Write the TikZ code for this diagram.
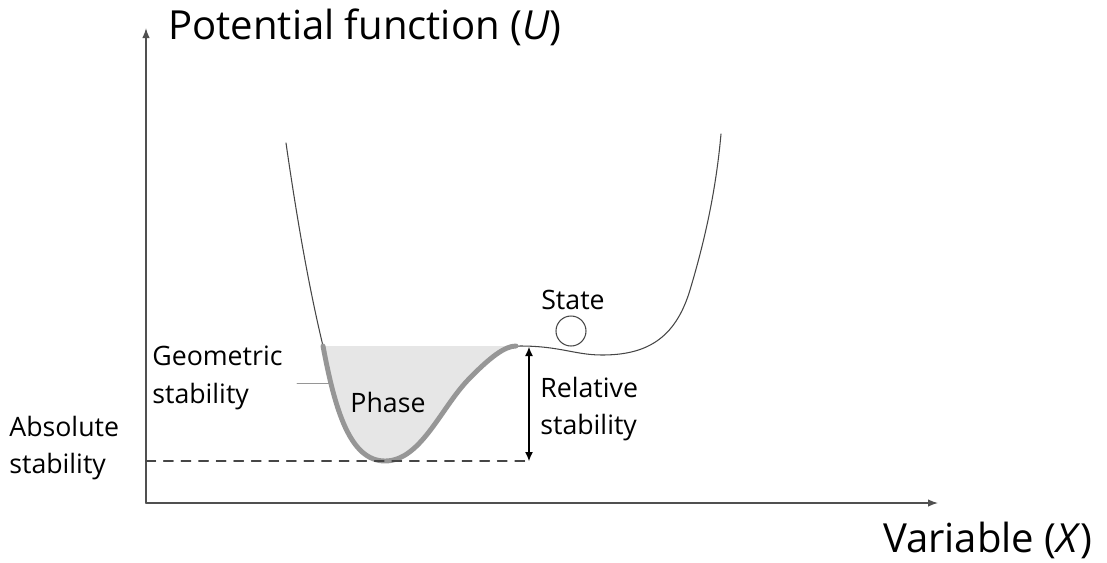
\documentclass[tikz,border=0pt]{standalone}
\usepackage{fontspec}
\setmainfont{Open Sans}
\usetikzlibrary{positioning,calc,arrows.meta}

\begin{document}
\begin{tikzpicture}[
    x=0.02cm, y=-0.02cm,
    >={Latex[length=2mm]},
    line join=round,
    line cap=round,
    lbl/.style={inner sep=0pt, align=left, font=\fontsize{15.2}{21.5}\selectfont},
    axislbl/.style={inner sep=0pt, font=\fontsize{22.8}{24}\selectfont}
]

% ========= Colors =========
\definecolor{axiscolor}{RGB}{80,80,80}
\definecolor{wellfill}{RGB}{230,230,230}
\definecolor{wellline}{RGB}{150,150,150}
\definecolor{curvecolor}{RGB}{70,70,70}

\useasboundingbox (0,0) rectangle (1107,562);

% ========= Axes =========
\coordinate (origin) at (146,503);
\coordinate (ytip) at (146,28);
\coordinate (xtip) at (938,503);
\draw[->, axiscolor, line width=0.8pt] (origin) -- (ytip);
\draw[->, axiscolor, line width=0.8pt] (origin) -- (xtip);

\node[axislbl, anchor=west] (ylabel) at (168,27) {Potential function (\textit{U})};
\node[axislbl, anchor=east] (xlabel) at (1093,540) {Variable (\textit{X})};

% ========= Well (filled part) =========
\fill[wellfill] (323,346) .. controls (335,410) and (350,461) .. (385,461)
    .. controls (420,461) and (440,410) .. (467,381)
    .. controls (490,357) and (505,346) .. (520,346) -- cycle;

% ========= Potential curve =========
\draw[curvecolor, line width=0.6pt] (286,143) .. controls (300,240) and (312,300) .. (323,346)
    .. controls (335,410) and (350,461) .. (385,461)
    .. controls (420,461) and (440,410) .. (467,381)
    .. controls (490,357) and (505,346) .. (520,346)
    .. controls (560,346) and (575,355) .. (602,355)
    .. controls (645,355) and (675,340) .. (690,290)
    .. controls (705,240) and (716,190) .. (721,134);

% thick part along the well
\draw[wellline, line width=2.8pt] (323,346) .. controls (335,410) and (350,461) .. (385,461)
    .. controls (420,461) and (440,410) .. (467,381)
    .. controls (490,357) and (505,346) .. (516,346);

% ========= State =========
\node[draw=curvecolor, line width=0.6pt, circle, minimum size=30*0.02cm, inner sep=0pt] (ball) at (571,331) {};
\node[lbl] (state) at (573,300) {State};

% ========= Labels =========
\node[lbl] (phase) at (388,402) {Phase};
\node[lbl, anchor=west] (geom) at (152,378) {Geometric\\stability};
\node[lbl, anchor=west] (absol) at (9,448) {Absolute\\stability};
\node[lbl, anchor=west] (relat) at (540,409) {Relative\\stability};

% ========= Stability markers =========
\coordinate (geomend) at (297,383);
\coordinate (wellpt) at (330,383);
\draw[wellline, line width=0.5pt] (geomend) -- (wellpt);

\coordinate (reltop) at (529,347);
\coordinate (relbot) at (529,461);
\coordinate (dashleft) at (146,461);
\draw[curvecolor, line width=0.6pt, dash pattern=on 5.5pt off 4.5pt] (dashleft) -- (relbot);
\draw[<->, black, line width=0.6pt, >={Latex[length=1.8mm,width=1.6mm]}] (reltop) -- (relbot);

\end{tikzpicture}
\end{document}
